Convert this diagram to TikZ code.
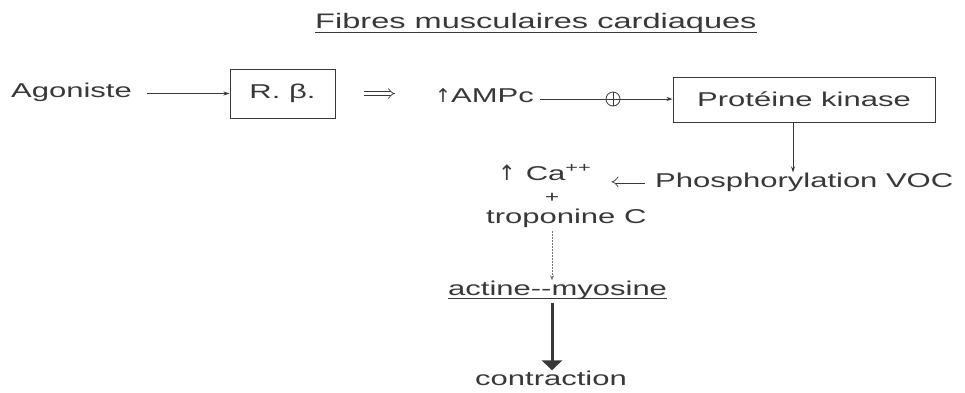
\documentclass[tikz,border=0pt]{standalone}
\usepackage{fontspec}
\setmainfont{Liberation Sans}[FakeStretch=1.55]
\newfontfamily\symfont{DejaVu Sans}
\usetikzlibrary{arrows.meta}
\definecolor{ink}{gray}{0.22}
\tikzset{
  lbl/.style={font=\fontsize{20}{24}\selectfont, text=ink, inner sep=0pt, anchor=base west},
  boxn/.style={draw=ink, line width=1pt, inner sep=0pt, font=\fontsize{20}{24}\selectfont, text=ink},
  conn/.style={draw=ink, line width=0.8pt, -{Stealth[length=6pt,width=4pt]}},
  dbl/.style={draw=ink, line width=0.7pt, double, double distance=3pt, -{Implies}},
  dotconn/.style={draw=ink!70, line width=0.8pt, dash pattern=on 1.5pt off 1.5pt, -{Stealth[length=5pt,width=4pt]}},
  thick arrow/.style={draw=ink, line width=3pt, -{Triangle[length=10pt,width=20pt]}},
  uline/.style={draw=ink, line width=0.8pt},
  plusnode/.style={circle, draw=ink, line width=0.8pt, minimum size=14pt, inner sep=0pt,
    path picture={\draw[ink, line width=0.8pt] (path picture bounding box.north) -- (path picture bounding box.south)
      (path picture bounding box.west) -- (path picture bounding box.east);}},
}
\begin{document}
\begin{tikzpicture}[x=1pt, y=-1pt]
\useasboundingbox[fill=white] (0,0) rectangle (965,392);
% title
\node[lbl, font=\fontsize{21}{25}\selectfont] (title) at (315,28) {Fibres musculaires cardiaques};
\draw[uline] ([yshift=-4pt]title.base west) -- ([yshift=-4pt]title.base east);
% row 1
\node[lbl] (agon) at (11,97) {Agoniste};
\node[boxn, minimum width=105pt, minimum height=49pt] (rb) at (282.5,93.5) {R.\ β.};
\node[lbl] (ampc) at (435,102) {{\symfont\fontsize{19}{22}\selectfont ↑}AMPc};
\node[plusnode] (op) at (613,99) {};
\node[boxn, minimum width=262pt, minimum height=45pt] (pk) at (804,99.5) {Protéine kinase};
\draw[conn, shorten <=15pt] (agon.east |- rb.west) -- (rb.west);
\draw[dbl, shorten <=28pt] (rb.east) -- ([xshift=-40pt]rb.east -| ampc.west);
\draw[uline, shorten <=6pt] (ampc.east |- op) -- (op.west);
\draw[conn] (op.east) -- (pk.west |- op);
% row 2
\node[lbl] (phos) at (655,187) {Phosphorylation VOC};
\node[lbl] (ca) at (498,180) {{\symfont\fontsize{21}{24}\selectfont ↑}\hspace{10pt}Ca\textsuperscript{++}};
\coordinate (pkx) at (793,0);
\draw[conn] (pk.south -| pkx) -- (phos.north -| pkx);
\draw[dbl, shorten <=10pt, shorten >=20pt] (phos.west) -- (phos.west -| ca.east);
\node[font=\fontsize{16}{20}\selectfont, text=ink, inner sep=0pt] (plus) at (552,198) {+};
\node[lbl] (tropo) at (486,223) {troponine C};
\node[lbl] (actine) at (448,295) {actine{-}{-}myosine};
\draw[uline] ([yshift=-3pt]actine.base west) -- ([yshift=-3pt]actine.base east);
\node[lbl] (contr) at (475,385) {contraction};
\draw[dotconn, shorten <=4pt] (plus |- tropo.south) -- (plus |- actine.north);
\draw[thick arrow, shorten <=4pt] (plus |- actine.south) -- (plus |- contr.north);
\end{tikzpicture}
\end{document}
